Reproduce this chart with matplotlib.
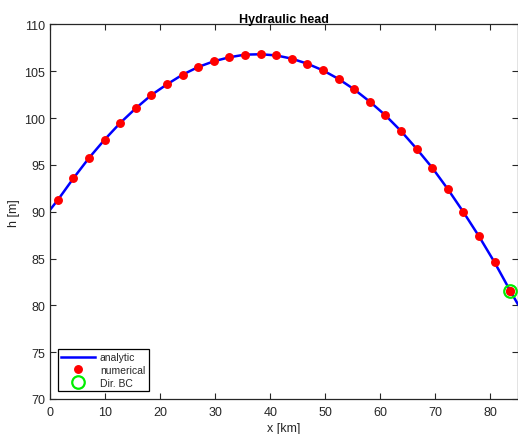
import matplotlib
matplotlib.use("Agg")
import matplotlib.pyplot as plt
import numpy as np

# cell centres of the 30-cell grid [km]
x_num = [1.42, 4.25, 7.08, 9.92, 12.75, 15.58, 18.42, 21.25, 24.08, 26.92,
         29.75, 32.58, 35.42, 38.25, 41.08, 43.92, 46.75, 49.58, 52.42, 55.25,
         58.08, 60.92, 63.75, 66.58, 69.42, 72.25, 75.08, 77.92, 80.75, 83.58]
h_num = [91.25, 93.57, 95.74, 97.70, 99.48, 101.05, 102.47, 103.61, 104.64, 105.46,
         106.07, 106.50, 106.78, 106.82, 106.70, 106.35, 105.81, 105.10, 104.18, 103.07,
         101.76, 100.30, 98.62, 96.73, 94.70, 92.42, 89.97, 87.37, 84.59, 81.56]

# analytic head, including the two domain ends
x_ana = [0.0] + x_num + [85.0]
h_ana = [90.2] + h_num + [80.1]

# Dirichlet boundary cell
x_bc = [83.58]
h_bc = [81.56]

plt.rcParams['font.family'] = ['Liberation Sans', 'DejaVu Sans']
txt = '#262626'

fig = plt.figure(figsize=(5.18, 4.35), dpi=100)
ax = fig.add_axes([0.0965, 0.0805, 0.9035, 0.8609])

ax.plot(x_ana, h_ana, color='#0000ff', lw=1.8, label='analytic')
ax.plot(x_num, h_num, 'o', color='#ff0000', ms=5.4, mec='#ff0000', label='numerical')
ax.plot(x_bc, h_bc, 'o', mfc='none', mec='#00ee00', mew=1.6, ms=9, label='Dir. BC')
# redraw the boundary cell value on top of the ring
ax.plot(x_bc, h_bc, 'o', color='#ff0000', ms=5.4)

ax.set_xlim(0, 85)
ax.set_ylim(70, 110)
ax.set_xticks(np.arange(0, 81, 10))
ax.set_yticks(np.arange(70, 111, 5))
ax.tick_params(direction='in', top=True, right=True, length=4, width=0.8,
               labelsize=9, colors=txt, labelcolor=txt)
ax.tick_params(axis='x', pad=5)
for s in ax.spines.values():
    s.set_color(txt)
    s.set_linewidth(0.9)

ax.set_title('Hydraulic head', fontsize=9, fontweight='bold', color='k', pad=2)
ax.set_xlabel('x [km]', fontsize=9, color=txt, labelpad=3)
ax.set_ylabel('h [m]', fontsize=9, color=txt, labelpad=3)

leg = ax.legend(loc='lower left', fontsize=7.5, frameon=True, fancybox=False,
                edgecolor='k', framealpha=1, borderpad=0.35, handlelength=3.2,
                handletextpad=0.5, labelspacing=0.25, borderaxespad=0.75)
leg.get_frame().set_linewidth(0.9)
for t in leg.get_texts():
    t.set_color(txt)

fig.savefig('out.png', dpi=100)
